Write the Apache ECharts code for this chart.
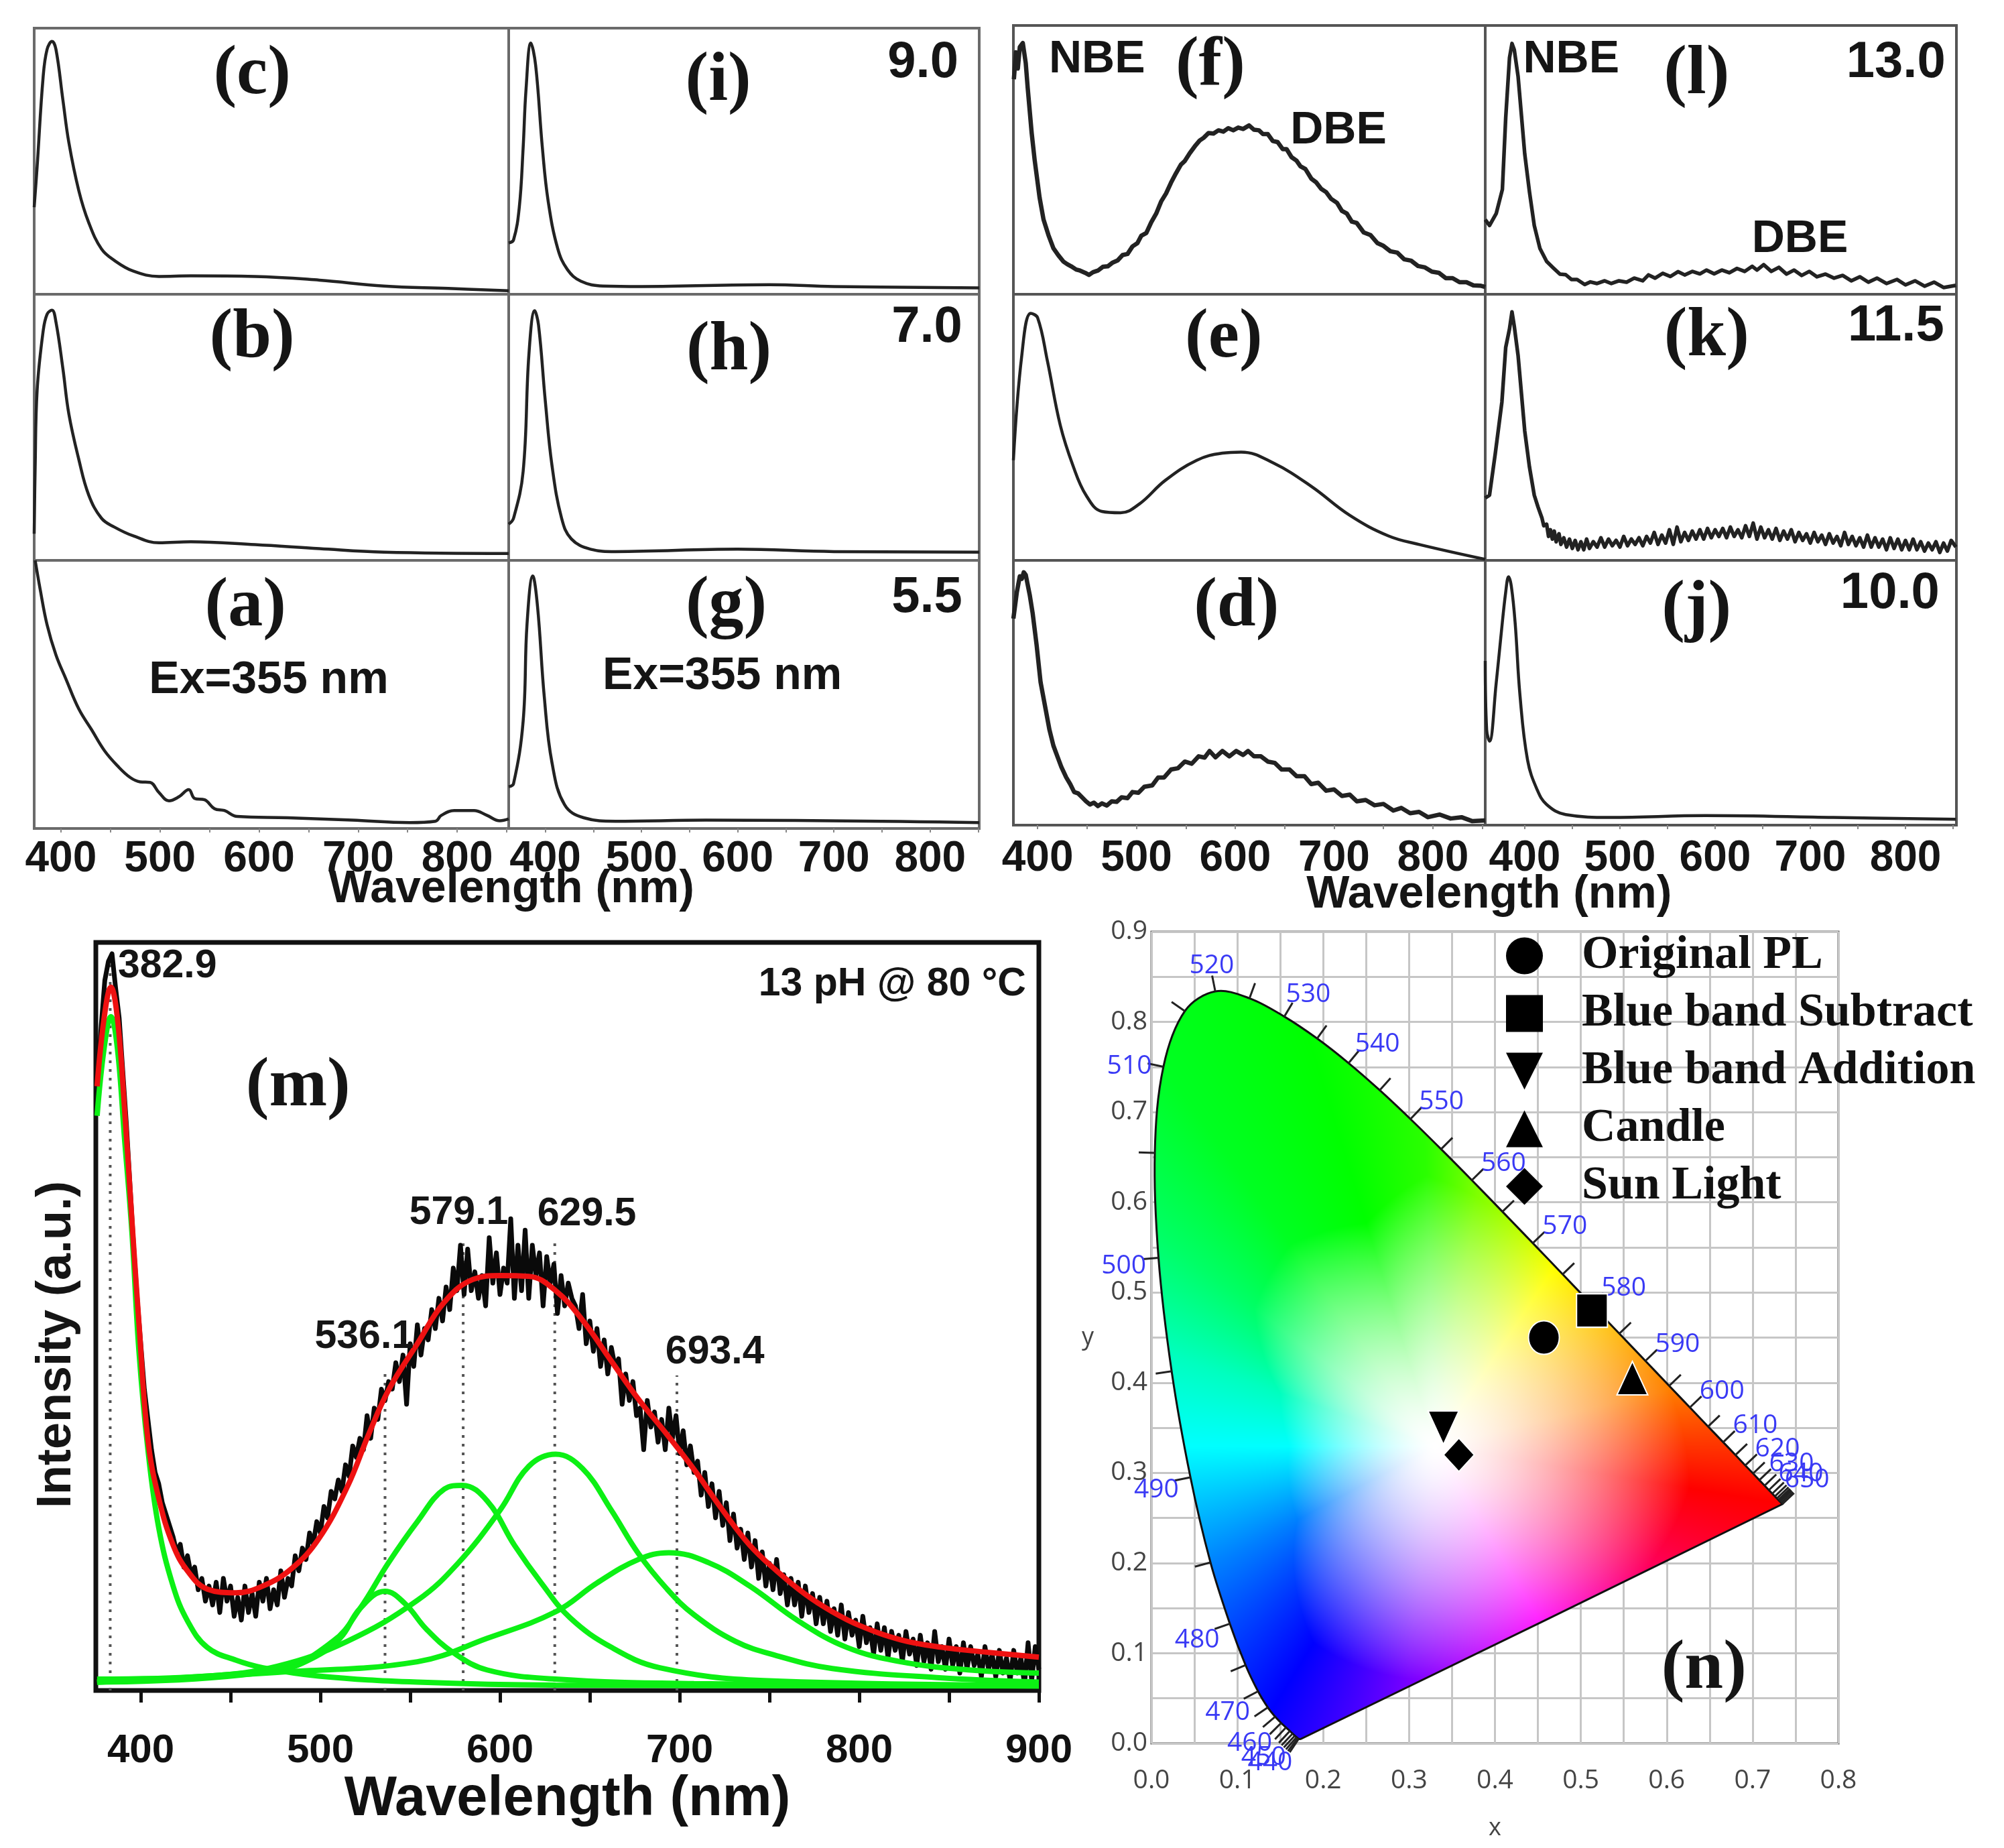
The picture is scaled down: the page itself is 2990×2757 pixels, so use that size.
<!DOCTYPE html>
<html><head><meta charset="utf-8">
<style>html,body{margin:0;padding:0;background:#fff}#c{width:2990px;height:2757px}</style>
<script src="https://cdn.jsdelivr.net/npm/echarts@6/dist/echarts.min.js"></script>
</head><body><div id="c"></div>
<script>
const wavelengthTicks=[400,500,600,700,800];
const mTicks=[400,500,600,700,800,900];
const panelC=[[373,.327],[376,.48],[382,.815],[386,.92],[391,.95],[395,.92],[402,.73],[408,.57],[418,.39],[428,.27],[441,.17],[454,.127],[473,.087],[499,.067],[531,.069],[596,.067],[661,.053],[726,.031],[791,.022],[852,.013]];
const panelB=[[373,.1],[374,.35],[376,.64],[382,.86],[386,.925],[391,.94],[395,.895],[402,.72],[408,.55],[418,.38],[428,.246],[441,.158],[454,.125],[473,.092],[499,.066],[531,.07],[596,.059],[661,.044],[726,.031],[852,.026]];
const panelA=[[374,1.0],[379,.893],[386,.76],[395,.647],[405,.558],[418,.446],[431,.368],[444,.29],[457,.234],[470,.19],[480,.174],[490,.172],[499,.134],[509,.103],[519,.118],[529,.145],[535,.112],[545,.107],[555,.074],[565,.067],[578,.045],[629,.04],[694,.031],[752,.022],[778,.027],[784,.049],[797,.067],[817,.067],[830,.049],[843,.029],[852,.036]];
const panelI=[[362,.193],[367,.204],[373,.327],[377,.55],[380,.77],[385,.944],[390,.86],[397,.55],[403,.35],[413,.171],[423,.093],[437,.049],[460,.031],[500,.029],[633,.036],[700,.029],[851,.024]];
const panelH=[[362,.136],[367,.158],[377,.334],[383,.774],[389,.938],[393,.884],[400,.6],[407,.356],[417,.158],[427,.081],[447,.042],[473,.033],[600,.042],[700,.033],[851,.031]];
const panelG=[[362,.156],[367,.167],[377,.40],[381,.76],[387,.942],[392,.826],[399,.49],[407,.245],[420,.089],[440,.04],[473,.027],[567,.031],[851,.022]];
const panelF=[[376,.80],[378,.9],[380,.84],[382,.92],[385,.935],[388,.86],[390,.767],[394,.6],[397,.5],[402,.36],[406,.278],[411,.22],[416,.171],[421,.145],[426,.122],[430,.112],[434,.104],[439,.092],[443,.088],[448,.08],[452,.072],[456,.082],[461,.088],[466,.102],[471,.104],[476,.118],[481,.126],[486,.146],[491,.15],[496,.178],[501,.19],[505,.218],[510,.228],[515,.268],[520,.3],[525,.345],[530,.375],[535,.415],[540,.45],[545,.482],[549,.496],[554,.525],[559,.55],[564,.572],[568,.582],[573,.6],[578,.598],[583,.61],[588,.605],[593,.618],[598,.61],[603,.62],[608,.615],[614,.628],[619,.612],[624,.61],[628,.596],[633,.596],[638,.57],[643,.566],[648,.54],[652,.54],[657,.51],[662,.497],[666,.476],[671,.466],[677,.43],[682,.416],[687,.392],[692,.38],[697,.355],[703,.34],[708,.31],[713,.3],[718,.27],[723,.265],[730,.23],[737,.22],[744,.19],[750,.18],[757,.16],[764,.155],[771,.13],[778,.125],[785,.105],[792,.1],[799,.084],[806,.08],[813,.06],[820,.06],[827,.045],[834,.045],[841,.033],[848,.032],[853,.027]];
const panelE=[[375.5,.376],[384,.77],[393,.928],[400,.912],[410,.748],[423,.507],[436,.354],[449,.245],[465,.184],[484,.179],[503,.212],[529,.3],[561,.376],[587,.403],[606,.407],[639,.365],[677,.278],[716,.169],[755,.092],[787,.059],[853,.004]];
const panelD=[[375.5,.78],[379,.88],[382,.94],[384,.93],[386,.955],[388,.945],[392,.87],[395,.8],[399,.68],[403,.54],[408,.44],[412,.36],[416,.3],[420,.26],[424,.22],[429,.18],[433,.155],[437,.125],[441,.12],[445,.105],[449,.09],[453,.078],[457,.085],[461,.072],[465,.082],[470,.074],[475,.09],[480,.088],[485,.105],[491,.102],[496,.125],[502,.122],[508,.145],[516,.15],[522,.18],[528,.18],[535,.21],[542,.215],[549,.24],[556,.232],[563,.26],[569,.255],[574,.28],[580,.256],[587,.28],[594,.26],[601,.28],[608,.265],[613,.28],[619,.26],[626,.26],[633,.24],[640,.235],[647,.21],[655,.21],[662,.185],[670,.185],[677,.155],[684,.16],[692,.13],[700,.135],[708,.11],[716,.115],[723,.09],[732,.095],[741,.075],[750,.08],[760,.055],[768,.065],[777,.045],[786,.05],[795,.03],[807,.04],[818,.025],[829,.03],[840,.015],[853,.018]];
const panelL=[[358.5,.278],[363,.256],[370,.3],[376.5,.39],[380,.656],[384,.88],[386.6,.933],[389,.91],[393,.811],[400,.522],[405,.38],[410,.256],[416,.17],[423,.122],[430,.098],[437,.075],[443,.073],[449,.055],[455,.055],[463,.036],[469,.046],[476,.04],[484,.05],[491,.04],[499,.05],[507,.045],[515,.06],[524,.05],[530,.072],[537,.06],[545,.078],[553,.066],[561,.084],[568,.072],[576,.085],[584,.076],[591,.09],[599,.076],[607,.09],[615,.08],[623,.096],[631,.085],[639,.104],[644,.09],[651,.11],[659,.085],[667,.1],[675,.075],[683,.09],[691,.07],[699,.085],[707,.065],[716,.075],[725,.06],[734,.07],[743,.05],[752,.065],[761,.045],[770,.06],[780,.04],[791,.055],[800,.035],[810,.05],[820,.03],[830,.045],[840,.025],[853,.033]];
const panelK=[[358.5,.234],[363,.245],[369,.4],[376,.595],[380,.8],[384,.87],[386.6,.934],[389,.88],[393,.77],[400,.486],[405,.35],[410,.245],[414,.2],[418,.16],[420,.13],[423,.136],[425,.09],[427,.115],[429,.08],[431,.11],[433,.07],[436,.1],[438,.06],[441,.085],[444,.05],[447,.08],[450,.045],[453,.075],[456,.04],[459,.07],[462,.04],[465,.08],[468,.045],[472,.07],[476,.05],[480,.085],[484,.05],[488,.08],[492,.055],[496,.075],[500,.05],[504,.09],[508,.055],[512,.08],[516,.06],[520,.085],[524,.055],[528,.09],[532,.065],[536,.105],[540,.06],[544,.095],[548,.065],[552,.115],[556,.06],[560,.125],[564,.07],[568,.105],[572,.075],[576,.11],[580,.08],[584,.115],[588,.08],[592,.12],[596,.085],[600,.115],[604,.09],[608,.12],[612,.085],[616,.125],[620,.09],[624,.115],[628,.085],[632,.13],[636,.09],[640,.14],[644,.08],[648,.125],[652,.085],[656,.115],[660,.08],[664,.12],[668,.075],[672,.11],[676,.08],[680,.115],[684,.07],[688,.105],[692,.075],[696,.1],[700,.065],[704,.105],[708,.07],[712,.095],[716,.06],[720,.1],[724,.065],[728,.09],[732,.055],[736,.105],[740,.06],[744,.09],[748,.055],[752,.085],[756,.05],[760,.095],[764,.05],[768,.085],[772,.05],[776,.08],[780,.04],[784,.085],[788,.045],[792,.08],[796,.04],[800,.075],[804,.04],[808,.08],[812,.04],[816,.07],[820,.035],[824,.065],[828,.04],[832,.07],[836,.03],[840,.065],[844,.035],[848,.075],[853,.05]];
const panelJ=[[358.5,.62],[360,.36],[363,.317],[370,.536],[375,.714],[380,.88],[383,.938],[386,.9],[390,.76],[395,.49],[403,.245],[413,.134],[423,.078],[443,.04],[490,.029],[590,.036],[724,.029],[853,.022]];
const mBlackStart=376, mBlackStep=2;
const mBlackY=[.82,.89,.95,.975,.985,.94,.90,.83,.76,.68,.6,.53,.47,.41,.37,.33,.30,.285,.26,.245,.23,.215,.195,.205,.175,.19,.165,.175,.145,.16,.13,.15,.125,.155,.115,.16,.13,.15,.11,.135,.105,.15,.115,.14,.11,.155,.13,.16,.12,.145,.125,.17,.135,.16,.15,.19,.17,.2,.185,.22,.205,.235,.22,.255,.24,.275,.265,.29,.275,.31,.295,.335,.32,.345,.33,.375,.345,.385,.37,.41,.395,.42,.41,.445,.42,.455,.39,.47,.44,.495,.455,.49,.475,.515,.49,.53,.5,.545,.515,.57,.54,.6,.535,.595,.54,.565,.53,.56,.52,.61,.55,.59,.535,.57,.55,.635,.53,.6,.54,.62,.53,.6,.56,.59,.52,.585,.55,.575,.51,.56,.52,.55,.53,.52,.49,.535,.47,.5,.46,.49,.44,.475,.43,.465,.44,.45,.39,.43,.395,.42,.375,.385,.33,.395,.36,.38,.34,.37,.33,.385,.345,.375,.325,.355,.31,.335,.3,.315,.27,.3,.255,.285,.24,.275,.23,.26,.21,.245,.2,.225,.185,.22,.175,.21,.16,.195,.15,.18,.145,.185,.14,.165,.125,.16,.125,.155,.11,.15,.115,.14,.1,.135,.1,.13,.09,.12,.085,.125,.08,.115,.085,.105,.07,.11,.075,.095,.06,.1,.065,.095,.055,.09,.065,.085,.05,.09,.06,.08,.045,.085,.05,.075,.04,.09,.05,.07,.04,.08,.045,.07,.035,.075,.04,.07,.045,.06,.03,.07,.04,.06,.03,.065,.035,.055,.025,.065,.035,.055,.02,.075,.025,.07,.04];
const mFit=[[375.7,.81],[379.6,.90],[383.4,.941],[387,.90],[391,.78],[395,.636],[399,.497],[404,.343],[410,.266],[418,.204],[426,.17],[437,.146],[453,.141],[468,.15],[484,.173],[499,.212],[515,.281],[527,.351],[538,.409],[554,.47],[569,.525],[585,.555],[600,.56],[616,.559],[631,.54],[646,.501],[662,.447],[677,.397],[693,.35],[708,.304],[724,.25],[739,.204],[754,.17],[770,.139],[785,.116],[800,.098],[823,.079],[846,.069],[869,.063],[900,.056]];
const mPeak383=[[375.7,.771],[379.6,.86],[383.4,.902],[387,.86],[391,.74],[395,.62],[399,.46],[404,.33],[410,.227],[418,.15],[426,.104],[437,.069],[453,.052],[468,.042],[499,.031],[554,.023],[631,.019],[900,.018]];
const mPeak536=[[375.7,.023],[476,.039],[495,.054],[511,.081],[522,.12],[536,.143],[547,.127],[559,.093],[574,.062],[593,.039],[631,.027],[708,.021],[900,.018]];
const mPeak579=[[375.7,.023],[476,.039],[507,.077],[522,.12],[538,.181],[554,.235],[569,.278],[579,.283],[593,.262],[608,.204],[623,.154],[639,.108],[662,.069],[689,.042],[747,.025],[900,.019]];
const mPeak630=[[375.7,.027],[437,.031],[476,.044],[515,.077],[554,.131],[577,.181],[600,.25],[616,.308],[631,.324],[646,.305],[662,.25],[677,.193],[693,.146],[708,.112],[731,.077],[754,.058],[785,.041],[843,.029],[900,.023]];
const mPeak693=[[375.7,.023],[476,.036],[554,.05],[593,.081],[631,.116],[654,.154],[677,.185],[694,.194],[716,.181],[739,.15],[766,.104],[793,.069],[823,.05],[862,.039],[900,.035]];
const mGuides=[[383,.985],[536,.436],[579.5,.609],[630.5,.609],[698.5,.428]];
const locus=[[420,.1714,.0051],[425,.1703,.0058],[430,.1689,.0069],[435,.1669,.0086],[440,.1644,.0109],[445,.1611,.0138],[450,.1566,.0177],[455,.1510,.0227],[460,.1440,.0297],[465,.1355,.0399],[470,.1241,.0578],[475,.1096,.0868],[480,.0913,.1327],[485,.0687,.2007],[490,.0454,.2950],[495,.0235,.4127],[500,.0082,.5384],[505,.0039,.6548],[510,.0139,.7502],[515,.0389,.8120],[520,.0743,.8338],[525,.1142,.8262],[530,.1547,.8059],[535,.1929,.7816],[540,.2296,.7543],[545,.2658,.7243],[550,.3016,.6923],[555,.3373,.6589],[560,.3731,.6245],[565,.4087,.5896],[570,.4441,.5547],[575,.4788,.5202],[580,.5125,.4866],[585,.5448,.4544],[590,.5752,.4242],[595,.6029,.3965],[600,.6270,.3725],[605,.6482,.3514],[610,.6658,.3340],[615,.6801,.3198],[620,.6915,.3083],[625,.7006,.2993],[630,.7079,.2920],[635,.7140,.2859],[640,.7190,.2809],[645,.7230,.2770],[650,.7260,.2740],[655,.7283,.2717],[660,.7300,.2700],[665,.7311,.2689],[670,.7320,.2680],[680,.7334,.2666],[700,.7347,.2653]];
const locusStart=[.1741,.0050];
const ciePoints=[['Original PL',.457,.45],['Blue band Subtract',.513,.48],['Blue band Addition',.34,.35],['Candle',.56,.405],['Sun Light',.358,.32]];
const cieSymbols=['circle','rect','path://M0,0 L10,0 L5,10 Z','triangle','diamond'];
const hueAnchors=[[-31,-25],[-9,0],[13,30],[55,60],[80,90],[92,110],[108,120],[127,128],[144,144],[162,165],[180,180],[207,210],[237,240],[263,268],[302,300],[329,335],[351,360]];
const reachAnchors=[[-31,.28],[-9,.3],[13,.28],[55,.24],[80,.28],[92,.3],[108,.26],[127,.28],[144,.26],[162,.19],[180,.17],[207,.18],[237,.26],[263,.26],[302,.25],[329,.28],[351,.3]];

const grids=[],xAxes=[],yAxes=[],series=[];
const sans='"Liberation Sans",Arial,sans-serif', serif='"Liberation Serif",serif', ui='"Open Sans","Noto Sans",sans-serif';
function addGrid(g,x,y){grids.push(g);xAxes.push(Object.assign({gridIndex:grids.length-1},x));yAxes.push(Object.assign({gridIndex:grids.length-1},y));return grids.length-1;}
const minorT=[400,450,500,550,600,650,700,750,800,850];
function spectrum(data,left,top,w,h,min,max,labels,lw,bc,noisy,margin){
 const i=addGrid({left,top,width:w,height:h,show:true,borderColor:bc||'#6a6a6a',borderWidth:4,backgroundColor:'#fff'},
  {type:'value',min,max,axisLine:{show:false},splitLine:{show:false},
   axisTick:{show:labels,length:6,customValues:minorT.filter(v=>v>min&&v<max),lineStyle:{color:'#888',width:2}},
   axisLabel:{show:labels,customValues:wavelengthTicks,margin:margin||14,color:'#151515',fontFamily:sans,fontWeight:'bold',fontSize:64}},
  {type:'value',min:0,max:1,show:false});
 series.push({type:'line',xAxisIndex:i,yAxisIndex:i,data,symbol:'none',showSymbol:false,silent:true,smooth:noisy?false:.4,lineStyle:{color:'#222',width:lw||4.5,join:'round'},z:3});
}
const LB=[51,759,1461],LR=[42,439,836,1236];
const RB=[1512,2216,2919],RR=[38,439,836,1231];
spectrum(panelC,LB[0],LR[0],LB[1]-LB[0],LR[1]-LR[0],373,852,false);
spectrum(panelB,LB[0],LR[1],LB[1]-LB[0],LR[2]-LR[1],373,852,false);
spectrum(panelA,LB[0],LR[2],LB[1]-LB[0],LR[3]-LR[2],373,852,true);
spectrum(panelI,LB[1],LR[0],LB[2]-LB[1],LR[1]-LR[0],362,851,false);
spectrum(panelH,LB[1],LR[1],LB[2]-LB[1],LR[2]-LR[1],362,851,false);
spectrum(panelG,LB[1],LR[2],LB[2]-LB[1],LR[3]-LR[2],362,851,true);
spectrum(panelF,RB[0],RR[0],RB[1]-RB[0],RR[1]-RR[0],375.5,853,false,6.5,'#555',true);
spectrum(panelE,RB[0],RR[1],RB[1]-RB[0],RR[2]-RR[1],375.5,853,false,4.5,'#555');
spectrum(panelD,RB[0],RR[2],RB[1]-RB[0],RR[3]-RR[2],375.5,853,true,6.5,'#555',true,18);
spectrum(panelL,RB[1],RR[0],RB[2]-RB[1],RR[1]-RR[0],358.5,853.5,false,5.5,'#555',true);
spectrum(panelK,RB[1],RR[1],RB[2]-RB[1],RR[2]-RR[1],358.5,853.5,false,5.5,'#555',true);
spectrum(panelJ,RB[1],RR[2],RB[2]-RB[1],RR[3]-RR[2],358.5,853.5,true,4.5,'#555',false,18);

// panel m
const mi=addGrid({left:143,top:1406,width:1407,height:1116,show:true,borderColor:'#111',borderWidth:7},
 {type:'value',min:375,max:900,axisLine:{show:false},splitLine:{show:false},
  axisTick:{show:true,length:18,customValues:[400,450,500,550,600,650,700,750,800,850,900],lineStyle:{color:'#111',width:5}},
  axisLabel:{customValues:mTicks,margin:60,color:'#111',fontFamily:sans,fontWeight:'bold',fontSize:60},
  name:'Wavelength (nm)',nameLocation:'middle',nameGap:122,nameTextStyle:{color:'#111',fontFamily:sans,fontWeight:'bold',fontSize:83}},
 {type:'value',min:.012,max:1,show:false});
mGuides.forEach(g=>series.push({type:'line',xAxisIndex:mi,yAxisIndex:mi,symbol:'none',silent:true,data:[[g[0],0.012],[g[0],g[1]]],lineStyle:{color:'#555',width:4,type:[4,9]},z:2}));
series.push({type:'line',xAxisIndex:mi,yAxisIndex:mi,data:mBlackY.map((v,i)=>[mBlackStart+i*mBlackStep,v]),symbol:'none',silent:true,lineStyle:{color:'#0a0a0a',width:7,join:'round'},z:3});
[mPeak383,mPeak536,mPeak579,mPeak630,mPeak693].forEach(d=>series.push({type:'line',xAxisIndex:mi,yAxisIndex:mi,data:d,symbol:'none',silent:true,smooth:.4,lineStyle:{color:'#0cf014',width:8},z:4}));
series.push({type:'line',xAxisIndex:mi,yAxisIndex:mi,data:mFit,symbol:'none',silent:true,smooth:.4,lineStyle:{color:'#ee1111',width:8},z:5});

// panel n
const gridL={lineStyle:{color:'#c6c6c6',width:3}};
const ni=addGrid({left:1718,top:1390,width:1025,height:1211,show:true,borderColor:'#555',borderWidth:3},
 {type:'value',min:0,max:.8,interval:.1,name:'x',nameLocation:'middle',nameGap:109,nameTextStyle:{color:'#444',fontFamily:ui,fontSize:36},
  axisLine:{show:false},axisTick:{show:false},axisLabel:{margin:36,color:'#444',fontFamily:ui,fontSize:39,formatter:v=>v.toFixed(1)},
  splitLine:gridL,minorTick:{show:false,splitNumber:2},minorSplitLine:Object.assign({show:true},gridL)},
 {type:'value',min:0,max:.9,interval:.1,name:'y',nameLocation:'middle',nameGap:86,nameRotate:0,nameTextStyle:{color:'#444',fontFamily:ui,fontSize:36},
  axisLine:{show:false},axisTick:{show:false},axisLabel:{margin:6,color:'#444',fontFamily:ui,fontSize:39,formatter:v=>v.toFixed(1)},
  splitLine:gridL,minorTick:{show:false,splitNumber:2},minorSplitLine:Object.assign({show:true},gridL)});

function lerpTable(tab,t){
 for(let i=1;i<tab.length;i++)if(t<=tab[i][0]){const a=tab[i-1],b=tab[i];return a[1]+(b[1]-a[1])*(t-a[0])/(b[0]-a[0]);}
 return tab[tab.length-1][1];
}
function hsv(h,s){
 h=((h%360)+360)%360;const c=s,x=c*(1-Math.abs((h/60)%2-1)),m=1-c;let r=0,g=0,b=0;
 if(h<60){r=c;g=x;}else if(h<120){r=x;g=c;}else if(h<180){g=c;b=x;}else if(h<240){g=x;b=c;}else if(h<300){r=x;b=c;}else{r=c;b=x;}
 return [r+m,g+m,b+m];
}
function chroma(x,y){
 const dx=x-.33,dy=y-.33,d=Math.hypot(dx,dy);
 let t=Math.atan2(dy,dx)*180/Math.PI;if(t<-31)t+=360;
 const s=Math.min(1,Math.pow(d/lerpTable(reachAnchors,t),1.5));
 return hsv(lerpTable(hueAnchors,t),s);
}
let gamutCanvas=null;
function gamutImage(w,h){
 if(gamutCanvas)return gamutCanvas;
 const c=document.createElement('canvas');c.width=w;c.height=h;
 const ctx=c.getContext('2d');const im=ctx.createImageData(w,h);
 for(let j=0;j<h;j++)for(let i=0;i<w;i++){
  const k=chroma(.8*i/w,.9*(1-j/h));const o=4*(j*w+i);
  im.data[o]=k[0]*255;im.data[o+1]=k[1]*255;im.data[o+2]=k[2]*255;im.data[o+3]=255;
 }
 ctx.putImageData(im,0,0);gamutCanvas=c;return c;
}
const outline=[locusStart].concat(locus.map(p=>[p[1],p[2]]));
series.push({type:'custom',xAxisIndex:ni,yAxisIndex:ni,coordinateSystem:'cartesian2d',silent:true,clip:false,z:3,data:[[0,0]],
 renderItem:(p,api)=>{
  const tl=api.coord([0,.9]),br=api.coord([.8,0]);
  const pts=outline.map(q=>api.coord(q));
  const w=Math.round(br[0]-tl[0]),h=Math.round(br[1]-tl[1]);
  return {type:'group',children:[
   {type:'image',style:{image:gamutImage(w,h),x:tl[0],y:tl[1],width:w,height:h},clipPath:{type:'polygon',shape:{points:pts,smooth:.35}}},
   {type:'polygon',shape:{points:pts,smooth:.35},style:{fill:'none',stroke:'#111',lineWidth:3}}
  ]};
 }});
series.push({type:'custom',xAxisIndex:ni,yAxisIndex:ni,coordinateSystem:'cartesian2d',silent:true,clip:false,z:4,
 data:locus,encode:{x:1,y:2},
 renderItem:(p,api)=>{
  const i=p.dataIndex,nm=locus[i][0];
  const pa=locus[Math.max(i-1,0)],pb=locus[Math.min(i+1,locus.length-1)];
  const a=api.coord([pa[1],pa[2]]),b=api.coord([pb[1],pb[2]]),c=api.coord([locus[i][1],locus[i][2]]);
  let nx=b[1]-a[1],ny=-(b[0]-a[0]);const L=Math.hypot(nx,ny)||1;nx/=L;ny/=L;
  const cen=api.coord([.33,.33]);
  if((c[0]-cen[0])*nx+(c[1]-cen[1])*ny<0){nx=-nx;ny=-ny;}
  const kids=[{type:'line',shape:{x1:c[0],y1:c[1],x2:c[0]+nx*24,y2:c[1]+ny*24},style:{stroke:'#222',lineWidth:3}}];
  if(nm%10===0&&nm>=440&&nm<=650)kids.push({type:'text',style:{text:String(nm),x:c[0]+nx*58+6,y:c[1]+ny*48+9,align:'center',verticalAlign:'middle',fill:'#3a3af5',font:'39px '+ui}});
  return {type:'group',children:kids};
 }});
ciePoints.forEach((p,i)=>series.push({type:'scatter',name:p[0],xAxisIndex:ni,yAxisIndex:ni,data:[[p[1],p[2]]],symbol:cieSymbols[i],symbolSize:[46,50],silent:true,z:6,itemStyle:{color:'#000',opacity:1,borderColor:'#fff',borderWidth:2}}));

const note=(text,x,y,fs,family,extra)=>Object.assign({type:'text',z:50,silent:true,x:x*.995,y:y*.995+4,style:{text,align:'center',verticalAlign:'middle',fill:'#151515',font:'bold '+fs+'px '+family}},extra||{});
const tags=[['(c)',378,109],['(b)',378,504],['(a)',368,907],['(i)',1077,119],['(h)',1093,523],['(g)',1089,905],['(f)',1815,96],['(e)',1835,504],['(d)',1854,907],['(l)',2544,109],['(k)',2559,502],['(j)',2544,911],['(m)',447,1626],['(n)',2555,2500]];
const bold=[['Ex=355 nm',403,1016,68],['Ex=355 nm',1083,1010,68],['9.0',1384,90,76],['7.0',1390,487,76],['5.5',1390,893,76],['NBE',1645,86,68],['DBE',2007,192,68],['NBE',2356,86,68],['DBE',2699,355,68],['13.0',2843,90,76],['11.5',2843,485,76],['10.0',2834,886,76],['Wavelength (nm)',767,1330,68],['Wavelength (nm)',2233,1338,68],['382.9',251,1445,59],['579.1',688,1815,59],['629.5',880,1817,59],['536.1',546,2001,59],['693.4',1072,2024,59],['13 pH @ 80 °C',1338,1472,59]];
const graphic=tags.map(t=>note(t[0],t[1],t[2],104,serif)).concat(bold.map(t=>note(t[0],t[1],t[2],t[3],sans)));
graphic.push(note('Intensity (a.u.)',86,2012,72,sans,{rotation:Math.PI/2}));

const chart=echarts.init(document.getElementById('c'),null,{renderer:'canvas',width:2990,height:2757});
chart.setOption({animation:false,backgroundColor:'#fff',grid:grids,xAxis:xAxes,yAxis:yAxes,series,graphic,
 legend:{show:true,orient:'vertical',left:2242,top:1386,itemWidth:55,itemHeight:55,itemGap:16,selectedMode:false,
  data:ciePoints.map((p,i)=>({name:p[0],icon:cieSymbols[i],itemStyle:{color:'#000',opacity:1,borderWidth:0}})),
  textStyle:{color:'#111',fontFamily:serif,fontWeight:'bold',fontSize:70,padding:[0,0,0,53]}}});
</script></body></html>
